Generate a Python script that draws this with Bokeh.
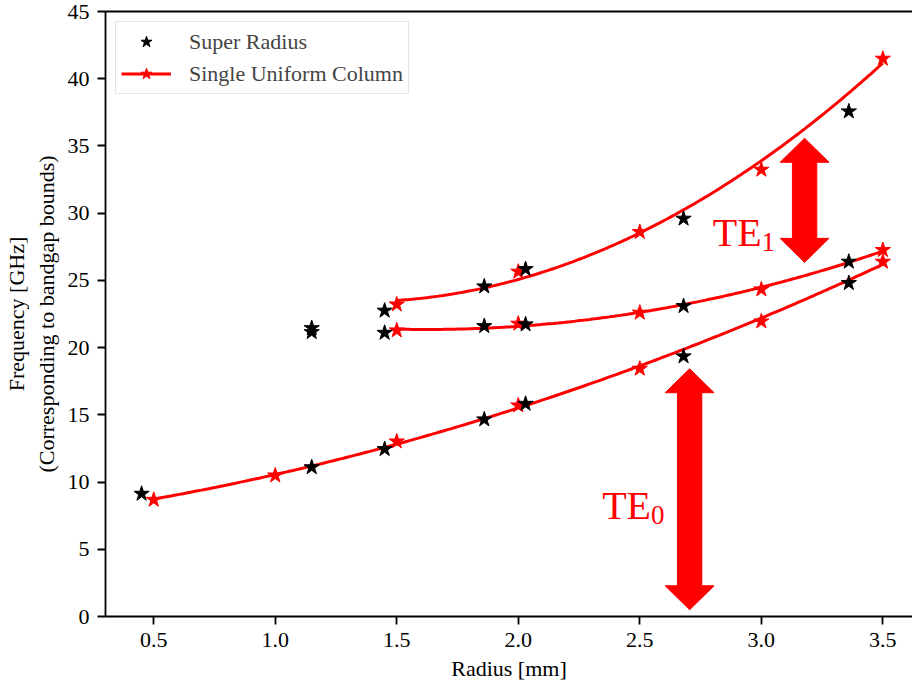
import numpy as np
from bokeh.plotting import figure
from bokeh.models import (Range1d, LinearAxis, FixedTicker, Legend, LegendItem)
from bokeh.core.properties import value
from bokeh.embed import file_html
from bokeh.resources import INLINE

FONT = "Liberation Serif"

# ---- data ----
sr_x = [0.45, 1.15, 1.15, 1.15, 1.45, 1.45, 1.45, 1.86, 1.86, 1.86,
        2.03, 2.03, 2.03, 2.68, 2.68, 2.68, 3.36, 3.36, 3.36]
sr_y = [9.13, 11.1, 21.15, 21.45, 12.45, 21.1, 22.75, 14.66, 21.6, 24.55,
        15.82, 21.73, 25.84, 19.35, 23.09, 29.59, 24.8, 26.39, 37.57]

te0_x = [0.5, 1.0, 1.5, 2.0, 2.5, 3.0, 3.5]
te0_y = [8.68, 10.49, 13.02, 15.7, 18.43, 21.95, 26.39]
mid_x = [1.5, 2.0, 2.5, 3.0, 3.5]
mid_y = [21.28, 21.78, 22.6, 24.33, 27.26]
up_x = [1.5, 2.0, 2.5, 3.0, 3.5]
up_y = [23.21, 25.65, 28.6, 33.23, 41.49]

x_ticks = [0.5, 1.0, 1.5, 2.0, 2.5, 3.0, 3.5]
y_ticks = [0, 5, 10, 15, 20, 25, 30, 35, 40, 45]

# annotation arrows (x centre, bottom tip, top tip)
arrow_x = [3.178, 2.705]
arrow_y0 = [26.34, 0.5]
arrow_y1 = [35.57, 18.43]
te_x = [2.800, 2.345]
te_y = [28.59, 8.26]
sub_x = [3.001, 2.546]
sub_y = [27.85, 7.57]
sub_txt = ["1", "0"]

X0, X1 = 0.3015, 3.622
Y0, Y1 = 0.0, 45.0

p = figure(width=912, height=686, output_backend="svg", toolbar_location=None,
           x_range=Range1d(X0, X1), y_range=Range1d(Y0, Y1),
           min_border_left=104, min_border_right=0, min_border_top=11,
           min_border_bottom=70)
p.outline_line_color = None
p.xgrid.visible = False
p.ygrid.visible = False
p.background_fill_color = "white"
p.border_fill_color = "white"

for ax in (p.xaxis[0], p.yaxis[0]):
    ax.axis_line_width = 1.8
    ax.major_tick_line_width = 1.8
    ax.major_tick_out = 8
    ax.major_tick_in = 0
    ax.minor_tick_line_color = None
    ax.major_label_text_font = FONT
    ax.major_label_text_font_size = "22px"
    ax.major_label_text_color = "black"
    ax.axis_label_text_font = FONT
    ax.axis_label_text_font_size = "22px"
    ax.axis_label_text_font_style = "normal"
    ax.axis_label_text_color = "black"

p.xaxis.ticker = FixedTicker(ticks=x_ticks)
p.yaxis.ticker = FixedTicker(ticks=y_ticks)
p.xaxis.major_label_overrides = {t: f"{t:.1f}" for t in x_ticks}
p.xaxis.axis_label = "Radius [mm]"
p.yaxis.axis_label = "Frequency [GHz]\n(Corresponding to bandgap bounds)"
p.xaxis.major_label_standoff = 8
p.xaxis.axis_label_standoff = 6
p.yaxis.major_label_standoff = 8
p.yaxis.axis_label_standoff = 6

top = LinearAxis(ticker=FixedTicker(ticks=[]), axis_line_width=1.8,
                 major_tick_line_color=None, minor_tick_line_color=None,
                 major_label_text_font_size="0px")
p.add_layout(top, "above")

# fitted curves (quadratic fit of each red series, as in the reference)
line_renderers = []
for xs, ys in ((te0_x, te0_y), (mid_x, mid_y), (up_x, up_y)):
    c = np.polyfit(xs, ys, 2)
    xx = np.linspace(min(xs), max(xs), 200)
    r = p.line(xx, np.polyval(c, xx), line_color="#ff0000", line_width=3)
    line_renderers.append(r)

red_x = te0_x + mid_x + up_x
red_y = te0_y + mid_y + up_y
red = p.scatter(red_x, red_y, marker="star", size=16, color="#ff0000")
blk = p.scatter(sr_x, sr_y, marker="star", size=16, color="black")

# double-headed arrows
px_x = 808 / (X1 - X0)
px_y = 605 / (Y1 - Y0)
sw, hw, hl = 12.2 / px_x, 24.5 / px_x, 24.0 / px_y
xs_list, ys_list = [], []
for xc, a, b in zip(arrow_x, arrow_y0, arrow_y1):
    xs_list.append([xc, xc + hw, xc + sw, xc + sw, xc + hw, xc, xc - hw, xc - sw, xc - sw, xc - hw])
    ys_list.append([b, b - hl, b - hl, a + hl, a + hl, a, a + hl, a + hl, b - hl, b - hl])
p.patches(xs_list, ys_list, fill_color="#ff0000", line_color="#ff0000", line_width=1)

p.text(te_x, te_y, text=["TE", "TE"], text_font=value(FONT), text_font_size="40px",
       text_color="#ff0000", text_align="left", text_baseline="alphabetic")
p.text(sub_x, sub_y, text=sub_txt, text_font=value(FONT), text_font_size="27px",
       text_color="#ff0000", text_align="left", text_baseline="alphabetic")

legend = Legend(items=[LegendItem(label="Super Radius", renderers=[blk]),
                       LegendItem(label="Single Uniform Column", renderers=[line_renderers[0], red])],
                location="top_left", margin=10, padding=5, spacing=3,
                glyph_width=50, glyph_height=29, label_height=29, label_standoff=18,
                label_text_font=FONT, label_text_font_size="22px",
                border_line_color="#cccccc", border_line_width=1.5,
                background_fill_color="white", background_fill_alpha=0.8)
p.add_layout(legend)

open("out.html", "w").write(file_html(p, INLINE))
